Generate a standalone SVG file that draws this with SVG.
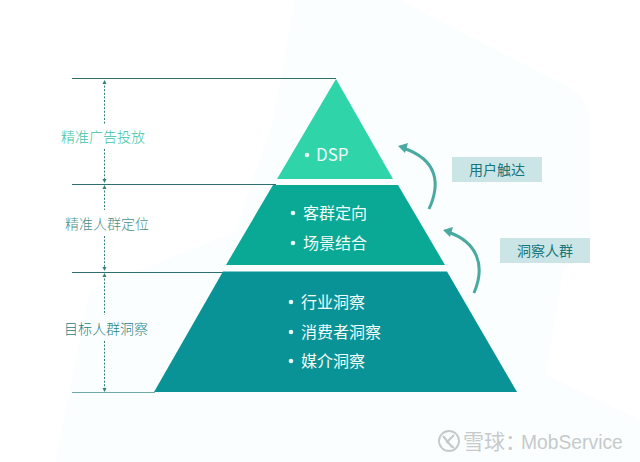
<svg xmlns="http://www.w3.org/2000/svg" width="640" height="462" viewBox="0 0 640 462">
<style>
text{font-family:"Noto Sans CJK SC","Noto Sans",sans-serif;font-size:16px;font-weight:400}
.w{fill:#f2fbf9}
.lab{text-anchor:middle;font-size:14px;font-weight:300}
.dot{fill:#e8f8f5}
.rule{stroke:#2f6f72;stroke-width:1;fill:none}
.dash{stroke:#2f7f7c;stroke-width:1;stroke-dasharray:2 1.600;fill:none}
.arc{stroke:#4aa9a0;stroke-width:3;fill:none}
.head{fill:#4aa9a0}
.tag{fill:#cbe5e6}
.tt{font-size:14px;text-anchor:middle;fill:#15757b}
.wm{fill:#c6caca}
</style>
<rect width="640" height="462" fill="#fff"/>
<path d="M295 0H400L570 88Q590 100 590 122V250L563 270L546 375L640 420V462H55L90 290L235 232L273 120Z" fill="#fafefe"/>
<g id="connectors">
<path class="rule" d="M72 78.500H336M72 184.500H276M72 272.500H224"/>
<path d="M72 392.500H155" stroke="#6fa9a6" stroke-width="1.200" fill="none"/>
<path class="dash" d="M104.500 82V124M104.500 149V182M104.500 187V210M104.500 236V270M104.500 275V315M104.500 341V390"/>
<path fill="#2f7f7c" d="M104.500 80l-2 4h4zM104.500 183l-2-4h4zM104.500 185l-2 4h4zM104.500 271l-2-4h4zM104.500 273l-2 4h4zM104.500 392l-2-4h4z"/>
<path class="arc" d="M429 209C440 185 439 160 403 148"/>
<path class="head" d="M398 146L408 143L405 153Z"/>
<path class="arc" d="M474 293C486 265 477 242 448 232"/>
<path class="head" d="M443 230L453 227L450 237Z"/>
</g>
<g id="tier-top">
<path d="M336 79L393 179H277Z" fill="#2fd4a9"/>
<circle class="dot" cx="307" cy="155" r="2.300"/>
<text x="316" y="161" class="w" style="font-size:17px">DSP</text>
</g>
<g id="tier-middle">
<path d="M273 185H398L445 265H226Z" fill="#0aa996"/>
<circle class="dot" cx="293" cy="213" r="2.300"/>
<text x="303" y="219" class="w">客群定向</text>
<circle class="dot" cx="293" cy="243" r="2.300"/>
<text x="303" y="249" class="w">场景结合</text>
</g>
<g id="tier-bottom">
<path d="M223 271.500H447L517 392H154Z" fill="#0a9397"/>
<circle class="dot" cx="291" cy="302" r="2.300"/>
<text x="301" y="308" class="w">行业洞察</text>
<circle class="dot" cx="291" cy="332" r="2.300"/>
<text x="301" y="338" class="w">消费者洞察</text>
<circle class="dot" cx="291" cy="361" r="2.300"/>
<text x="301" y="367" class="w">媒介洞察</text>
</g>
<g id="label-ad"><text x="103" y="142" class="lab" fill="#3cc4a5">精准广告投放</text></g>
<g id="label-target"><text x="107" y="229" class="lab" fill="#4d8f8a">精准人群定位</text></g>
<g id="label-insight"><text x="106" y="334" class="lab" fill="#1d8288">目标人群洞察</text></g>
<g id="tag-reach">
<rect class="tag" x="452" y="157" width="90" height="25"/>
<text x="497" y="175" class="tt">用户触达</text>
</g>
<g id="tag-insight">
<rect class="tag" x="500" y="238" width="90" height="25"/>
<text x="545" y="256" class="tt">洞察人群</text>
</g>
<g id="watermark">
<circle cx="449" cy="441" r="10" fill="none" stroke="#c4c8c8" stroke-width="1.800"/>
<path d="M443 436L452 447M454 435L447 442L454 448" fill="none" stroke="#c4c8c8" stroke-width="2"/>
<text x="463" y="449" class="wm" style="font-size:21px">雪球：</text>
<text x="521" y="449" class="wm" style="font-size:19.300px;font-family:'Liberation Sans',sans-serif">MobService</text>
</g>
</svg>
